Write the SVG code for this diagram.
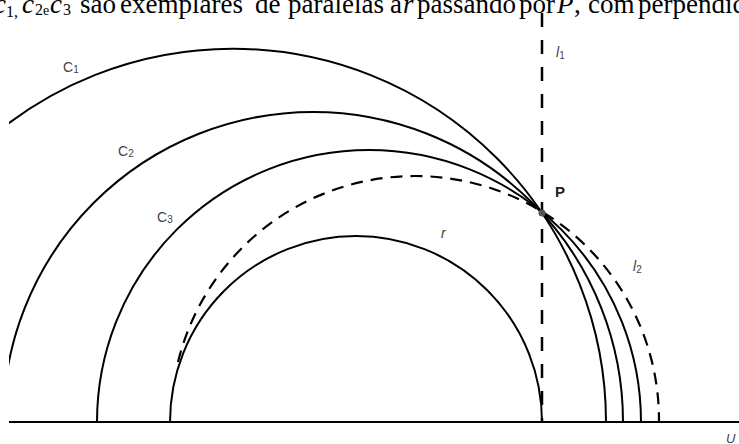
<svg xmlns="http://www.w3.org/2000/svg" width="739" height="444" viewBox="0 0 739 444">
<style>
.arc{fill:none;stroke:#000;stroke-width:2}
.dash{fill:none;stroke:#000;stroke-width:2.2;stroke-dasharray:12 8}
.vdash{fill:none;stroke:#000;stroke-width:2.5;stroke-dasharray:14 13}
.cap{font-family:"Liberation Serif","Times New Roman",serif;font-size:27px;fill:#000}
.lab{font-family:"Liberation Sans",Arial,sans-serif;font-size:14px;fill:#444}
.sub{font-size:10px}
.it{font-style:italic}
</style>
<defs>
<clipPath id="clip"><rect x="9" y="0" width="730" height="444"/></clipPath>
</defs>
<rect width="739" height="444" fill="#fff"/>
<g id="caption" class="cap">
<text x="-6" y="12.5" class="it">c</text>
<text x="6" y="17" font-size="16">1,</text>
<text x="22" y="12.5" class="it">c</text>
<text x="35" y="15" font-size="16">2</text>
<text x="43" y="15" font-size="14">e</text>
<text x="50" y="12.5" class="it">c</text>
<text x="63" y="15" font-size="16">3</text>
<text y="12.5"><tspan x="80">são</tspan><tspan x="120">exemplares</tspan><tspan x="255">de</tspan><tspan x="288">paralelas</tspan><tspan x="390">a</tspan><tspan x="403" class="it">r</tspan><tspan x="417">passando</tspan><tspan x="519">por</tspan><tspan x="557" class="it">P</tspan><tspan x="574">,</tspan><tspan x="588">com</tspan><tspan x="638">perpendic</tspan></text>
</g>
<g id="connectors" clip-path="url(#clip)">
<line x1="9" y1="422" x2="739" y2="422" class="arc"/>
<line x1="542" y1="13" x2="542" y2="422" class="vdash"/>
<path id="inner" class="arc" d="M170,422 A186,186 0 0 1 542,422"/>
<path id="c3" class="arc" d="M97,422 A272,272 0 0 1 641,422"/>
<path id="c2" class="arc" d="M3,422 A310,310 0 0 1 623,422"/>
<path id="c1" class="arc" d="M-140.6,422 A373.3,373.3 0 0 1 606,422"/>
<path id="r" class="dash" d="M178,362 A244,244 0 0 1 659,422"/>
</g>
<g id="P">
<circle cx="542" cy="213" r="3.5" fill="#555"/>
<text x="555" y="197" font-family="Liberation Sans,Arial,sans-serif" font-size="15" font-weight="bold" fill="#222">P</text>
</g>
<g id="labels" class="lab">
<text x="63" y="72">C<tspan class="sub" dy="1">1</tspan></text>
<text x="118" y="156">C<tspan class="sub" dy="1">2</tspan></text>
<text x="157" y="222">C<tspan class="sub" dy="1">3</tspan></text>
<text x="556" y="57" class="it">l<tspan class="sub" dy="2" font-style="normal">1</tspan></text>
<text x="441" y="238" class="it">r</text>
<text x="633" y="271" class="it">l<tspan class="sub" dy="2" font-style="normal">2</tspan></text>
<text x="726" y="443" class="it" font-size="13">U</text>
</g>
</svg>
